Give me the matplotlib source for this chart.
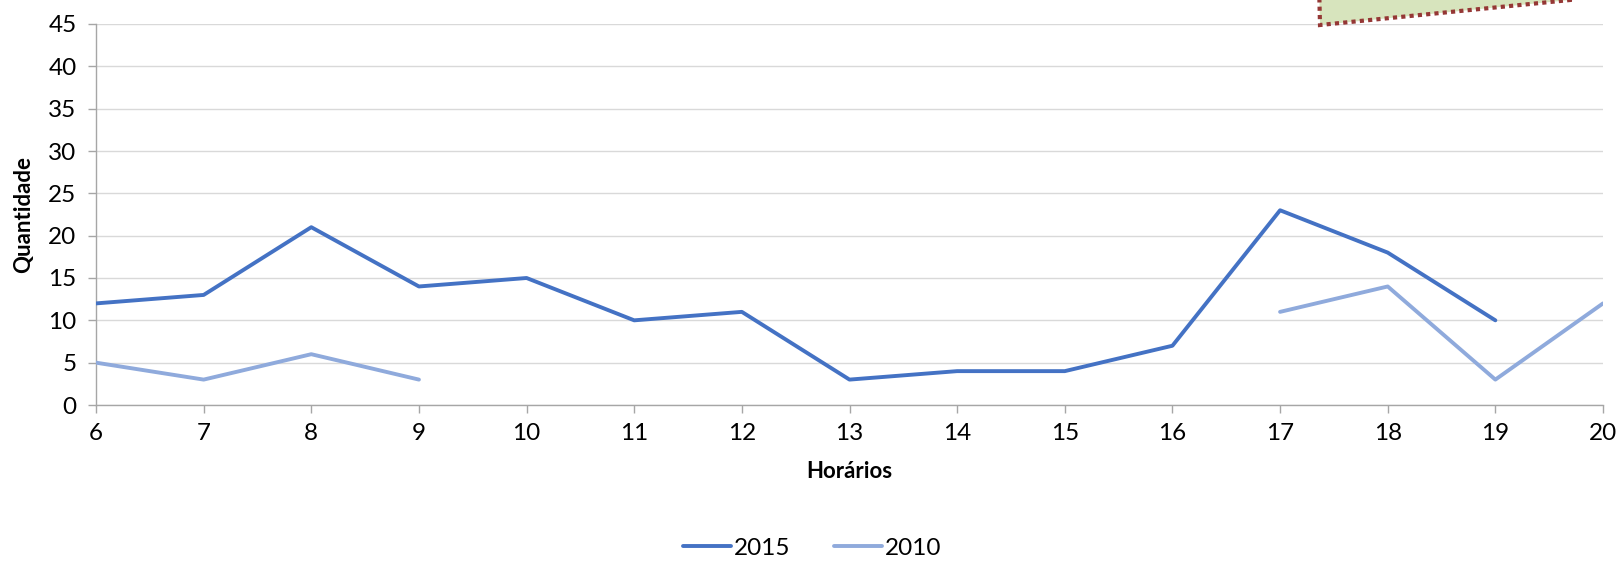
import numpy as np
import matplotlib
matplotlib.use("Agg")
import matplotlib.pyplot as plt
from matplotlib.patches import Polygon

hours = [6, 7, 8, 9, 10, 11, 12, 13, 14, 15, 16, 17, 18, 19, 20]
s2015 = [12, 13, 21, 14, 15, 10, 11, 3, 4, 4, 7, 23, 18, 10, np.nan]
s2010 = [5, 3, 6, 3, np.nan, np.nan, np.nan, np.nan, np.nan, np.nan, np.nan, 11, 14, 3, 12]
yticks = [0, 5, 10, 15, 20, 25, 30, 35, 40, 45]

plt.rcParams['font.family'] = ['Lato', 'DejaVu Sans']

W, H = 1619, 561
fig = plt.figure(figsize=(W / 100, H / 100), dpi=100)
l, r, b, t = 96 / W, 1603 / W, 1 - 405 / H, 1 - 24 / H
ax = fig.add_axes([l, b, r - l, t - b])

c15 = '#4472C4'
c10 = '#8FAADC'
ax.plot(hours, s2015, color=c15, lw=2.8, label='2015', solid_capstyle='round', zorder=3)
ax.plot(hours, s2010, color=c10, lw=2.8, label='2010', solid_capstyle='round', zorder=3)

ax.set_xlim(6, 20)
ax.set_ylim(0, 45)
ax.set_xticks(hours)
ax.set_yticks(yticks)
ax.grid(axis='y', color='#D9D9D9', lw=1)
ax.set_axisbelow(True)
for s in ['top', 'right']:
    ax.spines[s].set_visible(False)
for s in ['left', 'bottom']:
    ax.spines[s].set_color('#A6A6A6')
    ax.spines[s].set_linewidth(1)
ax.tick_params(axis='both', colors='#A6A6A6', labelcolor='#000000', labelsize=17.5, length=6, width=1)
ax.tick_params(axis='x', pad=7)
ax.tick_params(axis='y', pad=8)

ax.set_xlabel('Horários', fontsize=16, fontweight='bold', labelpad=12)
ax.set_ylabel('Quantidade', fontsize=16, fontweight='bold', labelpad=10)

fig.legend(loc='center', bbox_to_anchor=(812 / W, 1 - 548 / H), ncol=2, frameon=False,
           fontsize=17.5, handlelength=2.0, handletextpad=0.1, columnspacing=1.8)

# decorative shape at top right (partially cut off)
poly = Polygon([[1318 / W, 1 - (-60) / H], [1320 / W, 1 - 25 / H], [1570 / W, 1 - 0 / H],
                [1575 / W, 1 - (-60) / H]], closed=True, transform=fig.transFigure,
               facecolor='#D7E4BD', edgecolor='#953735', lw=3, linestyle=(0, (1, 1)),
               clip_on=False)
fig.patches.append(poly)

fig.savefig('out.png', dpi=100)
